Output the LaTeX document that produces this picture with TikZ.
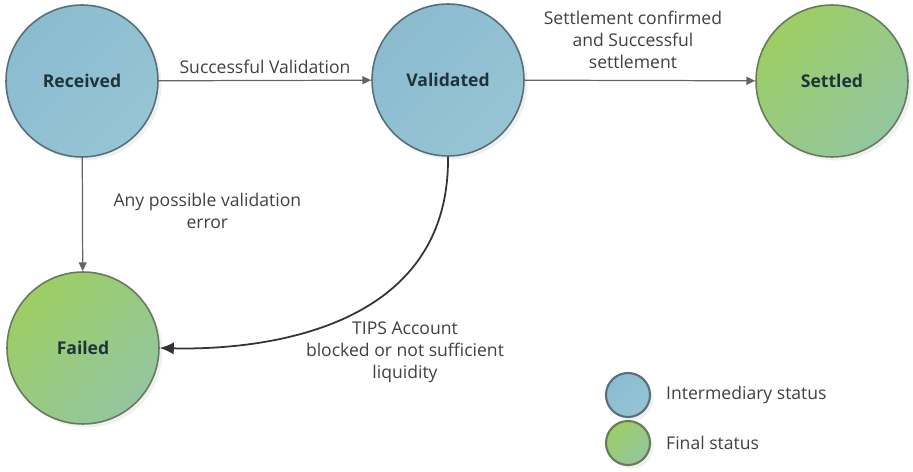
\documentclass[tikz,border=0pt]{standalone}
\usepackage{fontspec}
\setmainfont{Open Sans}
\usetikzlibrary{arrows.meta,shadows}
\definecolor{interblue}{RGB}{138,188,208}
\definecolor{interblueb}{RGB}{150,196,212}
\definecolor{bluerim}{RGB}{88,110,122}
\definecolor{finalgreen}{RGB}{156,206,100}
\definecolor{finalgreenb}{RGB}{148,198,160}
\definecolor{greenrim}{RGB}{104,122,92}
\definecolor{statetext}{RGB}{30,52,58}
\definecolor{labeltext}{RGB}{64,64,64}
\definecolor{linegray}{RGB}{100,100,100}
\begin{document}
\begin{tikzpicture}[x=0.02cm, y=-0.02cm,
  state/.style={circle, line width=0.9pt, minimum size=3.04cm, text=statetext,
    font=\fontsize{10}{12}\selectfont\bfseries,
    drop shadow={opacity=0.12, shadow xshift=2pt, shadow yshift=-2pt}},
  inter/.style={draw=bluerim, top color=interblue, bottom color=interblueb, shading angle=45},
  final/.style={draw=greenrim, top color=finalgreen, bottom color=finalgreenb, shading angle=45},
  lbl/.style={text=labeltext, align=center, font=\fontsize{10}{12.5}\selectfont},
  flow/.style={-{Triangle[length=5pt,width=4.5pt]}, draw=linegray, line width=0.7pt},
  failflow/.style={-{Latex[length=8pt,width=7pt]}, draw=black!80, line width=1pt}]
\useasboundingbox (0,0) rectangle (913,472);
\node[state, inter] (R) at (82,81) {Received};
\node[state, inter] (V) at (448,80) {Validated};
\node[state, final] (S) at (832,81) {Settled};
\node[state, final] (F) at (83,348) {Failed};
\draw[flow] (R) -- node[lbl, above] (lRV) {Successful Validation} (V);
\draw[flow] (V) -- node[lbl, above, yshift=3pt, xshift=-4pt] (lVS) {Settlement confirmed\\and Successful\\settlement} (S);
\draw[flow] (R) -- node[lbl, right, xshift=14pt, yshift=2pt] (lRF) {Any possible validation\\error} (F);
\draw[failflow] (V.south) .. controls (450,340) and (240,350) .. (F.east);
\node[lbl] (lVF) at (405,352) {TIPS Account\\blocked or not sufficient\\liquidity};
% legend
\node[state, inter, minimum size=0.88cm, line width=1.2pt] (legI) at (628,395) {};
\node[state, final, minimum size=0.88cm, line width=1.2pt] (legF) at (628,443) {};
\node[lbl, right] (legIt) at (660,395) {Intermediary status};
\node[lbl, right] (legFt) at (660,443) {Final status};
\end{tikzpicture}
\end{document}
